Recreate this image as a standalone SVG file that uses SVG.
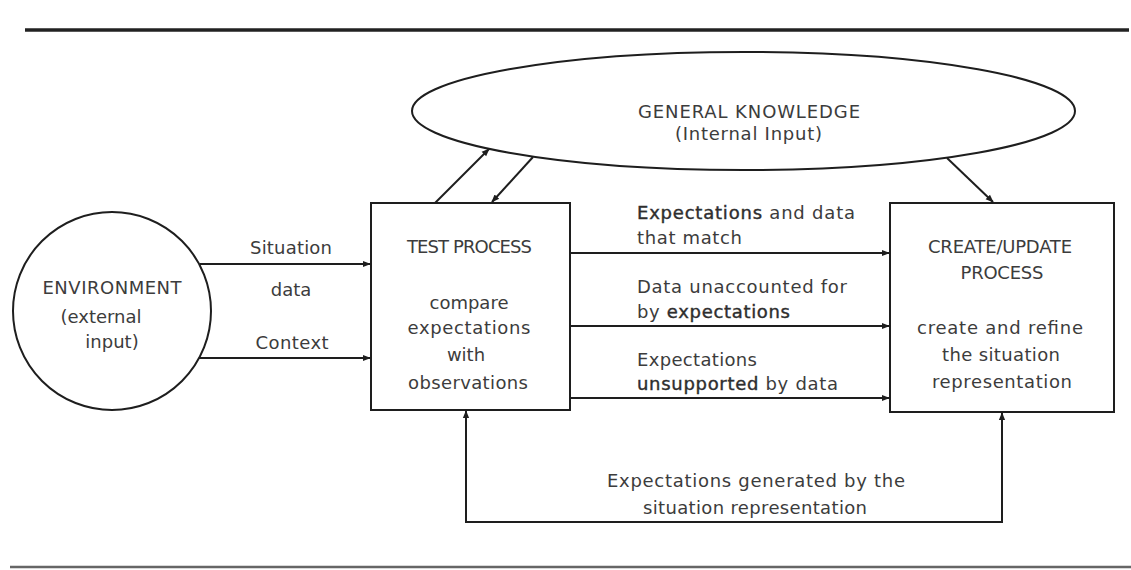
<svg xmlns="http://www.w3.org/2000/svg" width="1131" height="570" viewBox="0 0 1131 570">
  <defs>
    <marker id="arrow" viewBox="0 0 10 10" refX="9" refY="5" markerWidth="8" markerHeight="8" markerUnits="userSpaceOnUse" orient="auto-start-reverse">
      <path d="M0,1 L10,5 L0,9 Z" fill="#1e1e1e"/>
    </marker>
    <style>
      .shape { fill: none; stroke: #1e1e1e; stroke-width: 2; }
      .conn { fill: none; stroke: #1e1e1e; stroke-width: 2; }
      .rule { stroke: #222; stroke-width: 3.5; }
      .rule2 { stroke: #666; stroke-width: 2.5; }
      text { font-family: "DejaVu Sans", "Liberation Sans", sans-serif; font-size: 18px; fill: #3c3c3c; }
      .c { text-anchor: middle; }
      .b { stroke: #2e2e2e; stroke-width: 0.4; fill: #2e2e2e; }
    </style>
  </defs>

  <rect width="1131" height="570" fill="#ffffff"/>

  <!-- page rules -->
  <line class="rule" x1="25" y1="30" x2="1129" y2="30"/>
  <line class="rule2" x1="10" y1="567" x2="1131" y2="567"/>

  <!-- environment -->
  <g id="environment">
    <circle class="shape" cx="112" cy="311" r="99"/>
    <text class="c" x="112" y="294" textLength="139">ENVIRONMENT</text>
    <text class="c" x="101" y="323">(external</text>
    <text class="c" x="112" y="348">input)</text>
  </g>

  <!-- general knowledge -->
  <g id="general-knowledge">
    <ellipse class="shape" cx="743.5" cy="111" rx="331.5" ry="59"/>
    <text class="c" x="749" y="118" textLength="222">GENERAL KNOWLEDGE</text>
    <text class="c" x="748.5" y="140" textLength="147">(Internal Input)</text>
  </g>

  <!-- test process -->
  <g id="test-process">
    <rect class="shape" x="371" y="203" width="199" height="207"/>
    <text class="c" x="469.5" y="253" textLength="125">TEST PROCESS</text>
    <text class="c" x="469" y="309">compare</text>
    <text class="c" x="469" y="334" textLength="123">expectations</text>
    <text class="c" x="466" y="361">with</text>
    <text class="c" x="468" y="389" textLength="120">observations</text>
  </g>

  <!-- create / update process -->
  <g id="create-update">
    <rect class="shape" x="890" y="203" width="224" height="209"/>
    <text class="c" x="1000" y="253" textLength="144">CREATE/UPDATE</text>
    <text class="c" x="1002" y="279" textLength="83">PROCESS</text>
    <text class="c" x="1000" y="334" textLength="166">create and refine</text>
    <text class="c" x="1001" y="361" textLength="118">the situation</text>
    <text class="c" x="1002" y="388" textLength="140">representation</text>
  </g>

  <!-- connectors -->
  <g id="connectors">
    <line class="conn" x1="200" y1="264" x2="370" y2="264" marker-end="url(#arrow)"/>
    <line class="conn" x1="199" y1="358" x2="370" y2="358" marker-end="url(#arrow)"/>
    <line class="conn" x1="435" y1="203" x2="489" y2="149" marker-end="url(#arrow)"/>
    <line class="conn" x1="533" y1="157" x2="492" y2="202" marker-end="url(#arrow)"/>
    <line class="conn" x1="947" y1="158" x2="993" y2="202" marker-end="url(#arrow)"/>
    <line class="conn" x1="570" y1="253" x2="889" y2="253" marker-end="url(#arrow)"/>
    <line class="conn" x1="570" y1="326" x2="889" y2="326" marker-end="url(#arrow)"/>
    <line class="conn" x1="570" y1="398" x2="889" y2="398" marker-end="url(#arrow)"/>
    <path class="conn" d="M466,411 V522 H1002 V413" marker-start="url(#arrow)" marker-end="url(#arrow)"/>
  </g>

  <!-- connector labels -->
  <g id="labels">
    <text class="c" x="291" y="254" textLength="82">Situation</text>
    <text class="c" x="291" y="296">data</text>
    <text class="c" x="292" y="349" textLength="73">Context</text>

    <text x="637" y="219" textLength="218"><tspan class="b">Expectations</tspan> and data</text>
    <text x="637" y="244" textLength="105">that match</text>
    <text x="637" y="293" textLength="210">Data unaccounted for</text>
    <text x="637" y="318" textLength="153">by <tspan class="b">expectations</tspan></text>
    <text x="637" y="366" textLength="120">Expectations</text>
    <text x="637" y="390" textLength="201"><tspan class="b">unsupported</tspan> by data</text>

    <text class="c" x="756" y="487" textLength="298">Expectations generated by the</text>
    <text class="c" x="755" y="514" textLength="224">situation representation</text>
  </g>
</svg>
